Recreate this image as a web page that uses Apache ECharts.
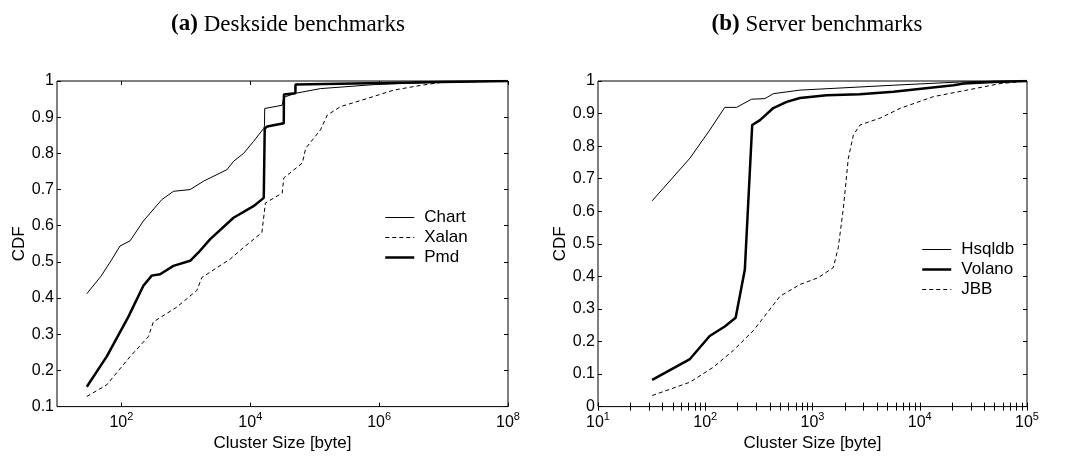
<!DOCTYPE html>
<html>
<head>
<meta charset="utf-8">
<script src="https://cdn.jsdelivr.net/npm/echarts@6/dist/echarts.min.js"></script>
<style>html,body{margin:0;padding:0;background:#fff}#c{width:1068px;height:457px}</style>
</head>
<body>
<div id="c"></div>
<script>
// ---------- data (x = cluster size in bytes, y = CDF) ----------
const chartX = [29, 48, 70, 95, 136, 219, 423, 641, 1167, 1879, 4345, 5495, 7889, 11220, 16180, 16600, 16750, 31260, 32500, 33110, 50120, 123000, 832000, 9120000, 100000000];
const chartY = [0.412, 0.46, 0.505, 0.544, 0.558, 0.613, 0.672, 0.695, 0.700, 0.723, 0.755, 0.778, 0.800, 0.833, 0.869, 0.875, 0.924, 0.933, 0.935, 0.955, 0.966, 0.979, 0.990, 0.997, 1.0];

const xalanX = [29, 59, 136, 261, 313, 724, 1479, 1778, 4898, 7889, 15140, 17180, 31260, 33110, 64120, 72440, 123000, 157000, 251000, 660700, 1698000, 4467000, 9120000, 100000000];
const xalanY = [0.128, 0.160, 0.238, 0.293, 0.334, 0.375, 0.421, 0.457, 0.508, 0.540, 0.581, 0.663, 0.690, 0.732, 0.773, 0.814, 0.865, 0.906, 0.929, 0.952, 0.975, 0.988, 0.996, 1.0];

const pmdX = [29, 59, 128, 219, 295, 398, 641, 1167, 1570, 2388, 5495, 11220, 16180, 16750, 18280, 33110, 33270, 50120, 50350, 9120000, 100000000];
const pmdY = [0.155, 0.238, 0.348, 0.434, 0.462, 0.466, 0.489, 0.503, 0.526, 0.563, 0.622, 0.654, 0.677, 0.869, 0.874, 0.883, 0.963, 0.966, 0.990, 0.997, 1.0];

const hsqldbX = [32, 72, 110, 152, 196, 270, 360, 431, 764, 5675, 23820, 48980, 100000];
const hsqldbY = [0.632, 0.763, 0.849, 0.919, 0.919, 0.944, 0.946, 0.961, 0.972, 0.987, 0.997, 1.0, 1.0];

const volanoX = [32, 72, 110, 152, 192, 234, 274, 324, 431, 574, 764, 1358, 2754, 5675, 20650, 25700, 48980, 100000];
const volanoY = [0.082, 0.146, 0.217, 0.246, 0.273, 0.421, 0.865, 0.880, 0.917, 0.936, 0.948, 0.956, 0.959, 0.967, 0.987, 0.992, 0.997, 1.0];

const jbbX = [32, 72, 119, 182, 280, 401, 498, 764, 1132, 1563, 1738, 1941, 2158, 2404, 2773, 4266, 6561, 13430, 27540, 56230, 100000];
const jbbY = [0.034, 0.075, 0.121, 0.172, 0.233, 0.299, 0.339, 0.375, 0.396, 0.427, 0.488, 0.610, 0.763, 0.834, 0.865, 0.886, 0.916, 0.952, 0.972, 0.992, 1.0];

const leftTickLabels = [100, 10000, 1000000, 100000000];
const rightTickLabels = [10, 100, 1000, 10000, 100000];
const leftNames = ['Chart', 'Xalan', 'Pmd'];
const rightNames = ['Hsqldb', 'Volano', 'JBB'];
const titles = ['(a)', 'Deskside benchmarks', '(b)', 'Server benchmarks'];

// ---------- helpers ----------
function zip(xs, ys) { return xs.map((x, i) => [x, ys[i]]); }
const rightMinorTicks = [];
for (let e = 1; e < 5; e++) for (let k = 1; k < 10; k++) rightMinorTicks.push(k * Math.pow(10, e));
rightMinorTicks.push(100000);

const FONT = 'Liberation Sans';
function powLabel(v) {
  const e = Math.round(Math.log10(v));
  return '{b|10}{s|' + e + '}';
}
const richPow = {
  b: { fontFamily: FONT, fontSize: 16, color: '#000' },
  s: { fontFamily: FONT, fontSize: 11, color: '#000', padding: [0, 0, 10, 0] }
};

function xAxes(grid, min, max, labels, ticks) {
  return [
    { type: 'log', gridIndex: grid, min: min, max: max, logBase: 10, position: 'bottom',
      axisLine: { show: false }, splitLine: { show: false },
      axisTick: { show: true, inside: true, length: 4, lineStyle: { color: '#000' }, customValues: ticks },
      axisLabel: { show: true, margin: 5, customValues: labels, formatter: powLabel, rich: richPow },
      name: 'Cluster Size [byte]', nameLocation: 'middle', nameGap: 26,
      nameTextStyle: { fontFamily: FONT, fontSize: 17, color: '#000' } },
    { type: 'log', gridIndex: grid, min: min, max: max, logBase: 10, position: 'top',
      axisLine: { show: false }, splitLine: { show: false },
      axisTick: { show: true, inside: true, length: 4, lineStyle: { color: '#000' }, customValues: ticks },
      axisLabel: { show: false } }
  ];
}
function yAxes(grid, min, gap) {
  return [
    { type: 'value', gridIndex: grid, min: min, max: 1, interval: 0.1, position: 'left',
      axisLine: { show: false }, splitLine: { show: false },
      axisTick: { show: true, inside: true, length: 4, lineStyle: { color: '#000' } },
      axisLabel: { margin: 3, fontFamily: FONT, fontSize: 16, color: '#000' },
      name: 'CDF', nameLocation: 'middle', nameRotate: 90, nameGap: gap,
      nameTextStyle: { fontFamily: FONT, fontSize: 17, color: '#000' } },
    { type: 'value', gridIndex: grid, min: min, max: 1, interval: 0.1, position: 'right',
      axisLine: { show: false }, splitLine: { show: false },
      axisTick: { show: true, inside: true, length: 4, lineStyle: { color: '#000' } },
      axisLabel: { show: false } }
  ];
}
const styleThin = { color: '#000', width: 1, type: 'solid' };
const styleDash = { color: '#000', width: 1, type: [4, 3] };
const styleThick = { color: '#000', width: 2.5, type: 'solid' };
function line(name, xi, yi, xs, ys, st) {
  return { name: name, type: 'line', xAxisIndex: xi, yAxisIndex: yi, data: zip(xs, ys),
    symbol: 'none', showSymbol: false, smooth: false, animation: false, z: st.width > 2 ? 3 : 2,
    lineStyle: st, itemStyle: { color: '#000' } };
}
function legendItem(name, st) {
  return { name: name, lineStyle: { color: '#000', width: st.width, type: st.type } };
}

const chart = echarts.init(document.getElementById('c'), null, { renderer: 'canvas' });
const legendCommon = {
  orient: 'vertical', itemWidth: 29, itemHeight: 14, itemGap: 3, icon: 'inherit',
  itemStyle: { color: 'rgba(0,0,0,0)', borderWidth: 0, opacity: 0 },
  textStyle: { fontFamily: FONT, fontSize: 17, color: '#000', padding: [0, 0, 0, 5] },
  selectedMode: false
};
chart.setOption({
  animation: false,
  backgroundColor: '#fff',
  title: [
    { text: '{a|' + titles[0] + '} ' + titles[1], left: 283, top: 8, textAlign: 'center',
      textStyle: { fontFamily: 'Liberation Serif', fontSize: 23, fontWeight: 'normal', color: '#000',
        rich: { a: { fontFamily: 'Liberation Serif', fontSize: 23, fontWeight: 'bold', color: '#000' } } } },
    { text: '{a|' + titles[2] + '} ' + titles[3], left: 812, top: 8, textAlign: 'center',
      textStyle: { fontFamily: 'Liberation Serif', fontSize: 23, fontWeight: 'normal', color: '#000',
        rich: { a: { fontFamily: 'Liberation Serif', fontSize: 23, fontWeight: 'bold', color: '#000' } } } }
  ],
  grid: [
    { left: 57, top: 81, width: 451, height: 327, show: true, borderColor: '#000', borderWidth: 1, backgroundColor: 'transparent' },
    { left: 598, top: 81, width: 429, height: 327, show: true, borderColor: '#000', borderWidth: 1, backgroundColor: 'transparent' }
  ],
  xAxis: xAxes(0, 10, 1e8, leftTickLabels, leftTickLabels).concat(xAxes(1, 10, 1e5, rightTickLabels, rightMinorTicks)),
  yAxis: yAxes(0, 0.1, 29).concat(yAxes(1, 0, 22)),
  legend: [
    Object.assign({}, legendCommon, { data: [legendItem(leftNames[0], styleThin), legendItem(leftNames[1], styleDash), legendItem(leftNames[2], styleThick)], left: 379, top: 204 }),
    Object.assign({}, legendCommon, { data: [legendItem(rightNames[0], styleThin), legendItem(rightNames[1], styleThick), legendItem(rightNames[2], styleDash)], left: 916, top: 236 })
  ],
  series: [
    line(leftNames[0], 0, 0, chartX, chartY, styleThin),
    line(leftNames[1], 0, 0, xalanX, xalanY, styleDash),
    line(leftNames[2], 0, 0, pmdX, pmdY, styleThick),
    line(rightNames[0], 2, 2, hsqldbX, hsqldbY, styleThin),
    line(rightNames[1], 2, 2, volanoX, volanoY, styleThick),
    line(rightNames[2], 2, 2, jbbX, jbbY, styleDash)
  ]
});
</script>
</body>
</html>
